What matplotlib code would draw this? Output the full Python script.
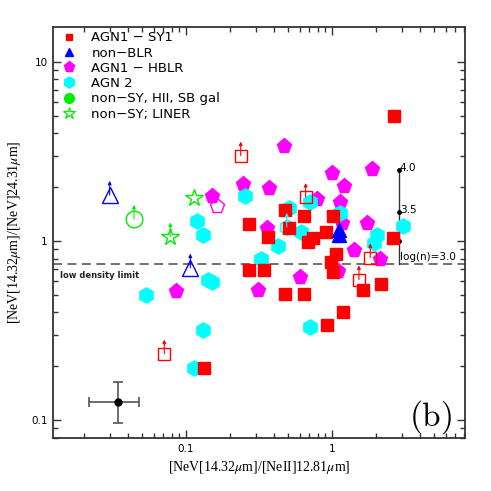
import matplotlib
matplotlib.use("Agg")
import matplotlib.pyplot as plt
from matplotlib.lines import Line2D

# ---------------------------------------------------------------
# data
# ---------------------------------------------------------------
# AGN1 - SY1 (filled red squares)
sy1_x = [2.66, 0.48, 0.27, 0.64, 1.02, 0.51, 0.365, 0.91, 0.74, 0.685, 2.62, 1.065,
         0.98, 1.02, 0.27, 0.34, 0.48, 0.64, 1.63, 2.17, 1.19, 0.92, 0.133]
sy1_y = [5.0, 1.50, 1.25, 1.38, 1.38, 1.19, 1.06, 1.13, 1.04, 0.99, 1.04, 0.85,
         0.76, 0.67, 0.69, 0.69, 0.51, 0.51, 0.535, 0.58, 0.40, 0.34, 0.196]
# SY1 lower limits (open red squares)
sy1_lim_x = [0.237, 0.66, 1.83, 1.53, 0.071]
sy1_lim_y = [3.0, 1.76, 0.81, 0.61, 0.235]

# non-BLR (blue triangles)
nblr_x = [1.11, 1.11]
nblr_y = [1.15, 1.08]
nblr_lim_x = [0.030, 0.107]
nblr_lim_y = [1.81, 0.71]

# AGN1 - HBLR (magenta pentagons)
hblr_x = [0.47, 0.247, 0.37, 1.0, 1.20, 1.89, 0.79, 1.13, 0.357, 1.165, 1.73,
          1.41, 2.13, 1.10, 0.60, 0.31, 0.085, 0.15]
hblr_y = [3.42, 2.09, 1.98, 2.40, 2.02, 2.54, 1.72, 1.66, 1.19, 1.27, 1.26,
          0.89, 0.79, 0.685, 0.63, 0.535, 0.53, 1.78]
hblr_open_x = [0.164]
hblr_open_y = [1.57]

# AGN 2 (cyan hexagons)
agn2_x = [0.254, 0.51, 0.71, 1.13, 0.61, 0.43, 0.325, 2.02, 1.94, 3.05, 0.118,
          0.130, 0.142, 0.150, 0.053, 0.131, 0.1135, 0.71]
agn2_y = [1.78, 1.53, 1.66, 1.43, 1.12, 0.945, 0.79, 1.08, 0.98, 1.21, 1.30,
          1.08, 0.61, 0.59, 0.50, 0.32, 0.195, 0.33]
agn2_lim_x = [0.49]
agn2_lim_y = [1.20]

# non-SY, HII, SB gal (green circle, lower limit)
hii_lim_x = [0.044]
hii_lim_y = [1.33]

# non-SY; LINER (green stars)
liner_x = [0.114]
liner_y = [1.74]
liner_lim_x = [0.078]
liner_lim_y = [1.06]

# typical error bar
err_x, err_y = 0.034, 0.126
err_xlo, err_xhi = 0.0217, 0.0474
err_ylo, err_yhi = 0.096, 0.163

# density scale
low_density = 0.75
dens_x = 2.86
dens_y = [1.0, 1.45, 2.5]
dens_lab = ["log(n)=3.0", "3.5", "4.0"]

RED = "#ff0000"
BLUE = "#0000ff"
MAG = "#ff00ff"
CYAN = "#00ffff"
GREEN = "#00ee00"

plt.rcParams['mathtext.fontset'] = 'stix'

fig = plt.figure(figsize=(4.91, 4.91), dpi=100)
ax = fig.add_axes([0.108, 0.108, 0.839, 0.837])
ax.set_xscale('log')
ax.set_yscale('log')


def uparrow(x, y, col):
    ax.annotate("", xy=(x, y * 1.2), xytext=(x, y),
                arrowprops=dict(arrowstyle='-|>', color=col, lw=0.8,
                                mutation_scale=5, shrinkA=0, shrinkB=0),
                zorder=6)


# magenta pentagons
ax.plot(hblr_x, hblr_y, 'p', color=MAG, ms=11, mec=MAG, zorder=3)
ax.plot(hblr_open_x, hblr_open_y, 'p', mfc='none', mec=MAG, ms=11, mew=1, zorder=3)

# cyan hexagons
ax.plot(agn2_x, agn2_y, 'h', color=CYAN, ms=11, mec=CYAN, zorder=4)
ax.plot(agn2_lim_x, agn2_lim_y, 'h', mfc='none', mec=CYAN, ms=11, mew=1, zorder=4)
for x, y in zip(agn2_lim_x, agn2_lim_y):
    uparrow(x, y, CYAN)

# red squares
ax.plot(sy1_x, sy1_y, 's', color=RED, ms=8.5, mec=RED, zorder=5)
ax.plot(sy1_lim_x, sy1_lim_y, 's', mfc='none', mec=RED, ms=8.5, mew=1, zorder=5)
for x, y in zip(sy1_lim_x, sy1_lim_y):
    uparrow(x, y, RED)

# blue triangles
ax.plot(nblr_x, nblr_y, '^', color=BLUE, ms=10, mec=BLUE, zorder=6)
ax.plot(nblr_lim_x, nblr_lim_y, '^', mfc='none', mec=BLUE, ms=11, mew=1, zorder=6)
for x, y in zip(nblr_lim_x, nblr_lim_y):
    uparrow(x, y, BLUE)

# green
ax.plot(hii_lim_x, hii_lim_y, 'o', mfc='none', mec=GREEN, ms=12, mew=1, zorder=6)
for x, y in zip(hii_lim_x, hii_lim_y):
    uparrow(x, y, GREEN)
ax.plot(liner_x, liner_y, '*', mfc='none', mec=GREEN, ms=13, mew=1, zorder=6)
ax.plot(liner_lim_x, liner_lim_y, '*', mfc='none', mec=GREEN, ms=13, mew=1, zorder=6)
for x, y in zip(liner_lim_x, liner_lim_y):
    uparrow(x, y, GREEN)

# error bar
ax.errorbar([err_x], [err_y],
            xerr=[[err_x - err_xlo], [err_xhi - err_x]],
            yerr=[[err_y - err_ylo], [err_yhi - err_y]],
            fmt='o', color='black', ms=5, ecolor='#555555', elinewidth=1.2,
            capsize=3.5, capthick=1.2, zorder=7)

# low density limit
ax.axhline(low_density, color='#666666', ls=(0, (5, 3)), lw=1.3, zorder=2)
ax.text(0.0137, 0.645, "low density limit", fontsize=6, fontweight='bold',
        color='#222222', va='center', ha='left')

# density scale
ax.plot([dens_x, dens_x], [low_density, dens_y[-1]], color='#333333', lw=1, zorder=2)
ax.plot([dens_x] * len(dens_y), dens_y, 'o', color='black', ms=2.5, zorder=2)
ax.text(dens_x * 1.03, 0.82, dens_lab[0], fontsize=7.5, va='center', ha='left')
for yv, lab in zip(dens_y[1:], dens_lab[1:]):
    ax.text(dens_x * 1.02, yv * 1.03, lab, fontsize=7.5, va='center', ha='left')

ax.text(0.97, 0.05, r'$(\mathrm{b})$', transform=ax.transAxes, fontsize=24,
        math_fontfamily='cm', ha='right', va='center')

ax.set_xlim(0.01227, 8.15)
ax.set_ylim(0.0796, 15.7)
ax.set_xticks([0.1, 1])
ax.set_xticklabels(["0.1", "1"])
ax.set_yticks([0.1, 1, 10])
ax.set_yticklabels(["0.1", "1", "10"])
ax.tick_params(which='both', direction='in', top=True, right=True,
               labelsize=7.5, width=1, color='#333333', pad=4)
ax.tick_params(which='major', length=6)
ax.tick_params(which='minor', length=3.5)
for s in ax.spines.values():
    s.set_linewidth(1.3)
    s.set_color('#333333')

ax.set_xlabel(r'[NeV[14.32$\mu$m]/[NeII]12.81$\mu$m]', family='Liberation Serif',
              fontsize=10, labelpad=4)
ax.set_ylabel(r'[NeV[14.32$\mu$m]/[NeV]24.31$\mu$m]', family='Liberation Serif',
              fontsize=10, labelpad=6)

handles = [
    Line2D([], [], ls='none', marker='s', color=RED, ms=5),
    Line2D([], [], ls='none', marker='^', color=BLUE, ms=5.5),
    Line2D([], [], ls='none', marker='p', color=MAG, ms=8),
    Line2D([], [], ls='none', marker='h', color=CYAN, ms=8),
    Line2D([], [], ls='none', marker='o', color=GREEN, ms=7),
    Line2D([], [], ls='none', marker='*', mfc='none', mec=GREEN, ms=9, mew=0.9),
]
labels = ["AGN1 − SY1", "non−BLR", "AGN1 − HBLR", "AGN 2",
          "non−SY, HII, SB gal", "non−SY; LINER"]
ax.legend(handles, labels, loc='upper left', bbox_to_anchor=(0.0, 1.012),
          frameon=False, fontsize=9.5, handlelength=1.0, handletextpad=1.2,
          labelspacing=0.17, borderaxespad=0.3)

fig.savefig("out.png", dpi=100)
